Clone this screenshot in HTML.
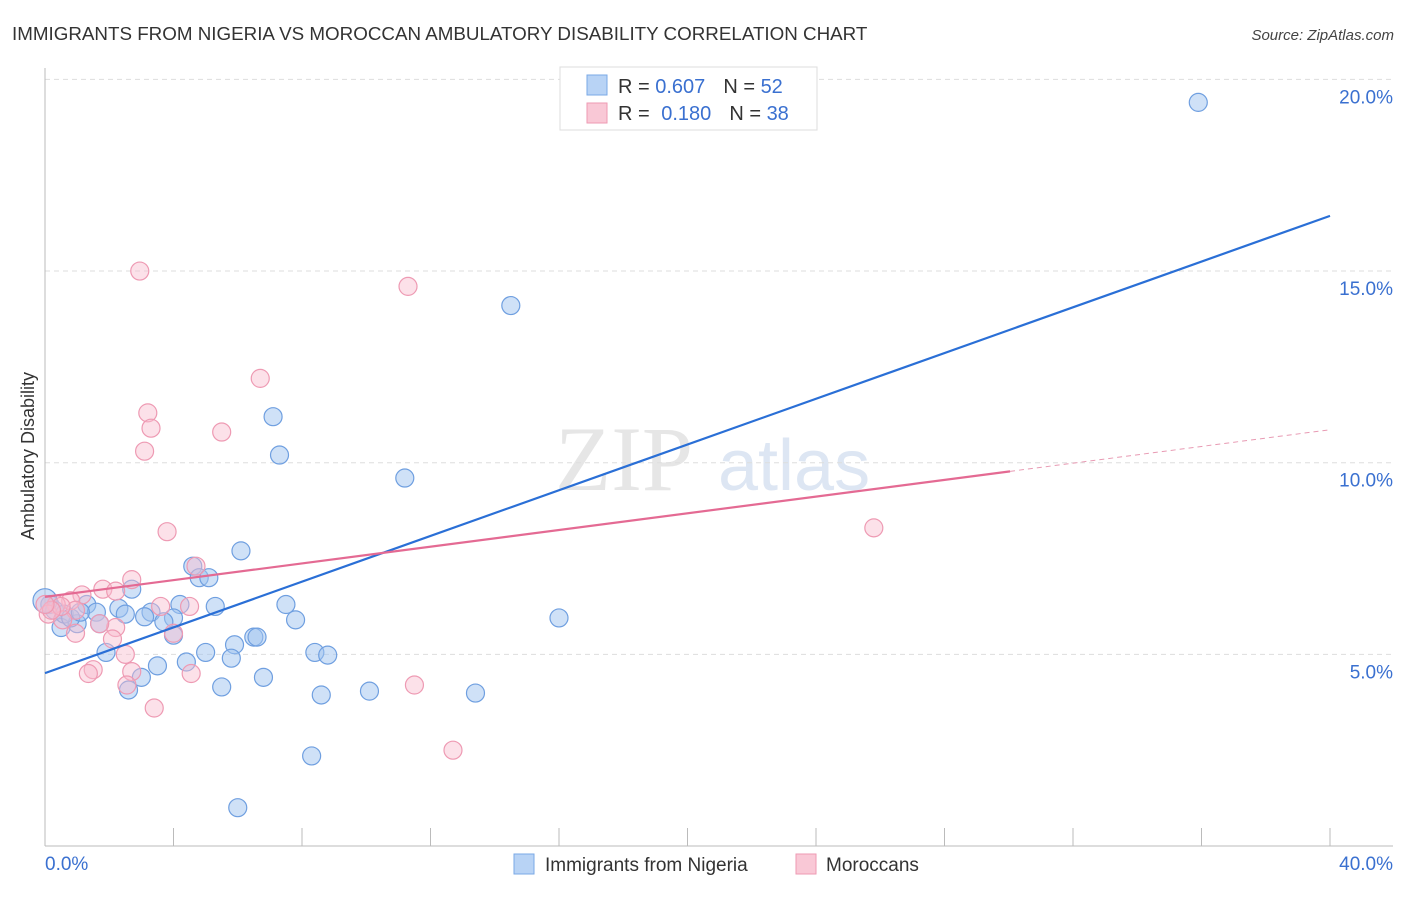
<!DOCTYPE html>
<html><head><meta charset="utf-8"><style>
body{margin:0;background:#fff;font-family:"Liberation Sans",sans-serif}
</style></head><body>
<svg id="chart" width="1406" height="892" xmlns="http://www.w3.org/2000/svg" font-family="Liberation Sans, sans-serif">
<text x="12" y="40" font-size="18.8" fill="#333">IMMIGRANTS FROM NIGERIA VS MOROCCAN AMBULATORY DISABILITY CORRELATION CHART</text>
<text x="1394" y="40" font-size="15" fill="#444" text-anchor="end" font-style="italic">Source: ZipAtlas.com</text>
<text x="555" y="490" font-size="92" fill="#e6e6e6" font-family="Liberation Serif, serif">ZIP</text>
<text x="718" y="490" font-size="72" fill="#dde6f3">atlas</text>
<g id="grid"></g><g id="axes"></g><g id="marks"></g><g id="lines"></g>
<text transform="translate(34,456) rotate(-90)" font-size="18" fill="#333" text-anchor="middle">Ambulatory Disability</text>
<g>
<rect x="560" y="67" width="257" height="63" fill="#fff" stroke="#ddd"/>
<rect x="587" y="75" width="20" height="20" fill="#b8d3f5" stroke="#7aa8e6"/>
<rect x="587" y="103" width="20" height="20" fill="#f9c8d6" stroke="#ee9ab3"/>
<text x="618" y="93" font-size="20" fill="#333">R = <tspan fill="#3a70d0">0.607</tspan><tspan dx="18">N = </tspan><tspan fill="#3a70d0">52</tspan></text>
<text x="618" y="120" font-size="20" fill="#333">R = <tspan fill="#3a70d0" dx="6">0.180</tspan><tspan dx="18">N = </tspan><tspan fill="#3a70d0">38</tspan></text>
</g>
<g>
<rect x="514" y="854" width="20" height="20" fill="#b8d3f5" stroke="#7aa8e6"/>
<text x="545" y="871" font-size="19" fill="#333">Immigrants from Nigeria</text>
<rect x="796" y="854" width="20" height="20" fill="#f9c8d6" stroke="#ee9ab3"/>
<text x="826" y="871" font-size="19" fill="#333">Moroccans</text>
</g>
</svg>
<script>
const xTicks=[0,4,8,12,16,20,24,28,32,36,40];
const yTicks=[5,10,15,20];
const yTickLabels=["5.0%","10.0%","15.0%","20.0%"];
const blueX=[35.9,14.5,7.1,7.3,11.2,6.1,4.6,4.8,5.1,2.7,4.2,5.3,7.5,16.0,7.8,3.3,2.3,2.5,3.1,4.0,3.7,1.3,1.6,0.5,1.0,1.7,4.0,6.5,6.6,5.9,5.0,1.9,8.4,8.8,5.8,3.5,4.4,3.0,6.8,2.6,5.5,8.6,10.1,13.4,8.3,6.0,0.15,0.3,0.6,0.8,0.0,1.1];
const blueY=[19.4,14.1,11.2,10.2,9.6,7.7,7.3,7.0,7.0,6.7,6.3,6.25,6.3,5.95,5.9,6.1,6.2,6.05,5.98,5.95,5.85,6.3,6.1,5.7,5.8,5.8,5.5,5.45,5.45,5.25,5.05,5.05,5.05,4.98,4.9,4.7,4.8,4.4,4.4,4.07,4.15,3.94,4.04,3.99,2.35,1.0,6.3,6.15,6.05,5.95,6.4,6.1];
const pinkX=[2.95,11.3,6.7,3.2,3.3,5.5,3.1,3.8,25.8,4.7,2.7,1.8,2.2,1.15,3.6,4.5,0.8,0.95,0.35,0.1,0.55,2.2,1.7,0.95,4.0,2.1,2.5,1.5,1.35,2.7,4.55,2.55,11.5,3.4,12.7,0.5,0.2,0.0];
const pinkY=[15.0,14.6,12.2,11.3,10.9,10.8,10.3,8.2,8.3,7.3,6.95,6.7,6.65,6.55,6.25,6.25,6.4,6.15,6.3,6.05,5.9,5.7,5.8,5.55,5.55,5.4,5.0,4.6,4.5,4.55,4.5,4.2,4.2,3.6,2.5,6.25,6.15,6.3];
const blueTrend=[4.51,16.44];
const pinkTrend=[6.5,10.86];
const pinkSolidEnd=30.04;
const X=v=>45+v/40*1285, Y=v=>846-v*38.33;
const NS="http://www.w3.org/2000/svg";
function mk(p,t,a){const e=document.createElementNS(NS,t);for(const k in a)e.setAttribute(k,a[k]);document.getElementById(p).appendChild(e);return e;}
yTicks.forEach((t,i)=>{
 const l=mk('grid','line',{x1:45,x2:1393,y1:Y(t),y2:Y(t),stroke:'#ddd','stroke-dasharray':'5,4'});
 
 
 const tx=mk('axes','text',{x:1393,y:Y(t)+24,'font-size':19,fill:'#3a70d0','text-anchor':'end'});
 
 
 tx.textContent=yTickLabels[i];
});
const a1=mk('axes','line',{x1:45,x2:45,y1:68,y2:846,stroke:'#bbb'});


const a2=mk('axes','line',{x1:45,x2:1393,y1:846,y2:846,stroke:'#bbb'});


xTicks.forEach(t=>{
 const l=mk('axes','line',{x1:X(t),x2:X(t),y1:828,y2:846,stroke:'#bbb'});
 
 
});
[[0,'0.0%','start',45],[40,'40.0%','end',1393]].forEach(d=>{
 const tx=mk('axes','text',{x:d[3],y:870,'font-size':19,fill:'#3a70d0','text-anchor':d[2]});
 
 
 tx.textContent=d[1];
});
blueX.forEach((v,i)=>{
 const c=mk('marks','circle',{cx:X(v),cy:Y(blueY[i]),r:(i==50?12:9),fill:'rgba(160,196,240,0.5)',stroke:'#6f9fe0','stroke-width':1.2});
 
 
});
pinkX.forEach((v,i)=>{
 const c=mk('marks','circle',{cx:X(v),cy:Y(pinkY[i]),r:9,fill:'rgba(248,188,206,0.45)',stroke:'#ee9ab3','stroke-width':1.2});
 
 
});
const bl=mk('lines','line',{x1:X(0),y1:Y(blueTrend[0]),x2:X(40),y2:Y(blueTrend[1]),stroke:'#2a6fd6','stroke-width':2.2});


const pm=pinkTrend[0]+(pinkTrend[1]-pinkTrend[0])*pinkSolidEnd/40;
const pl=mk('lines','line',{x1:X(0),y1:Y(pinkTrend[0]),x2:X(pinkSolidEnd),y2:Y(pm),stroke:'#e46a93','stroke-width':2.2});


const pd=mk('lines','line',{x1:X(pinkSolidEnd),y1:Y(pm),x2:X(40),y2:Y(pinkTrend[1]),stroke:'#e89ab3','stroke-width':1,'stroke-dasharray':'5,4'});


</script>
</body></html>
